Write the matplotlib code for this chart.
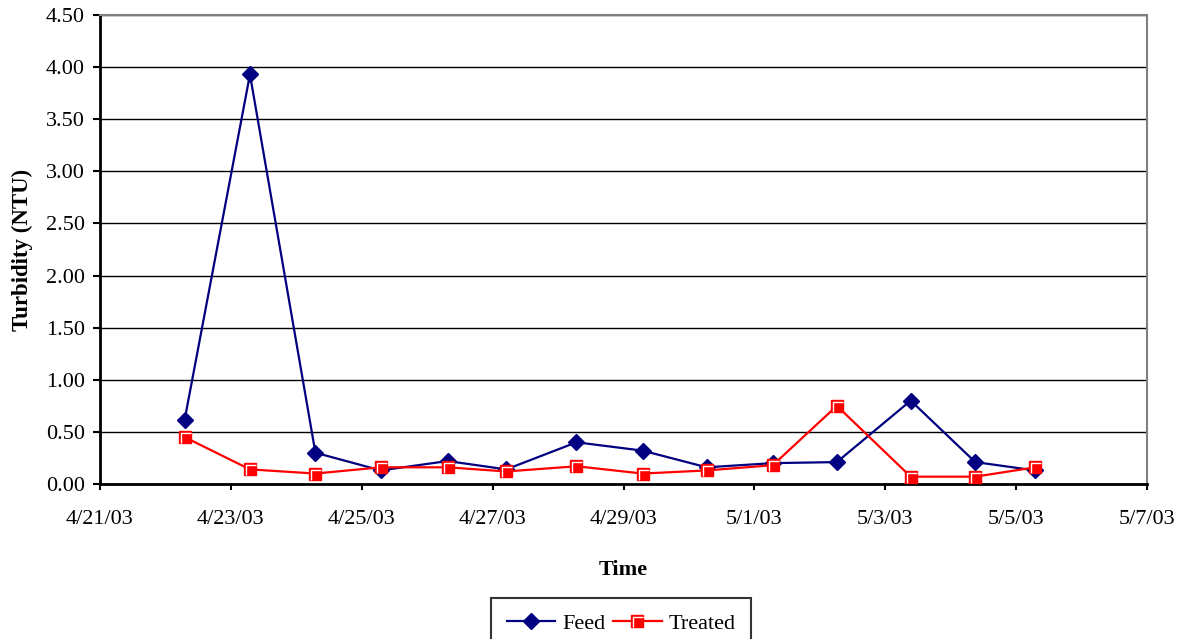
import numpy as np
import pandas as pd
import matplotlib
matplotlib.use('Agg')
import matplotlib.pyplot as plt
import matplotlib.dates as mdates
from matplotlib.path import Path
from matplotlib.legend_handler import HandlerTuple

# sample times and turbidity readings (NTU)
sample_times = ['2003-04-22 07:00', '2003-04-23 07:00', '2003-04-24 07:00',
                '2003-04-25 07:00', '2003-04-26 07:30', '2003-04-27 05:00',
                '2003-04-28 06:45', '2003-04-29 07:00', '2003-04-30 06:30',
                '2003-05-01 06:45', '2003-05-02 06:15', '2003-05-03 09:20',
                '2003-05-04 09:00', '2003-05-05 07:00']
feed = [0.61, 3.93, 0.30, 0.13, 0.22, 0.14, 0.40, 0.32, 0.16, 0.20,
        0.21, 0.80, 0.21, 0.13]
treated = [0.45, 0.14, 0.10, 0.16, 0.16, 0.12, 0.17, 0.10, 0.13, 0.18,
           0.75, 0.07, 0.07, 0.16]

x_start, x_end = '2003-04-21', '2003-05-07'
y_ticks = np.arange(0, 4.51, 0.5)

plt.rcParams['font.family'] = ['Liberation Serif', 'DejaVu Serif']

t = pd.to_datetime(sample_times)

fig = plt.figure(figsize=(11.82, 6.39), dpi=100)
ax = fig.add_axes([0.0846, 0.2426, 0.8858, 0.7339])

# white corner mark drawn inside the red squares
corner = Path([(-0.32, -0.45), (-0.32, 0.32), (0.45, 0.32)],
              [Path.MOVETO, Path.LINETO, Path.LINETO])

feed_line, = ax.plot(t, feed, color='#000080', lw=1.6, marker='D',
                     markersize=8.5, markerfacecolor='#000080',
                     markeredgecolor='#000080', zorder=3)
treated_line, = ax.plot(t, treated, color='#ff0000', lw=1.6, marker='s',
                        markersize=8, markerfacecolor='#ff0000',
                        markeredgecolor='#ff0000', zorder=4)
corner_marks, = ax.plot(t, treated, ls='none', marker=corner, markersize=8,
                        markerfacecolor='none', markeredgecolor='white',
                        markeredgewidth=1.0, zorder=5)

ax.set_xlim(pd.Timestamp(x_start), pd.Timestamp(x_end))
ax.set_ylim(0, 4.5)
ax.set_xticks(pd.date_range(x_start, x_end, freq='2D'))
ax.xaxis.set_major_formatter(
    plt.FuncFormatter(lambda v, p: '{d.month}/{d.day}/{y}'.format(
        d=mdates.num2date(v), y=mdates.num2date(v).strftime('%y'))))
ax.set_yticks(y_ticks)
ax.yaxis.set_major_formatter(plt.FuncFormatter(lambda v, p: f'{v:.2f}'))

ax.grid(axis='y', color='black', lw=1.0, zorder=0)
ax.set_axisbelow(True)
ax.tick_params(axis='both', direction='out', width=1.5,
               labelsize=16, color='black')
ax.tick_params(axis='x', length=4, pad=15)
ax.tick_params(axis='y', length=5, pad=6)

for side in ['left', 'bottom']:
    ax.spines[side].set_linewidth(2)
    ax.spines[side].set_color('black')
for side in ['top', 'right']:
    ax.spines[side].set_linewidth(1.5)
    ax.spines[side].set_color('#808080')

ax.set_xlabel('Time', fontsize=16, fontweight='bold', labelpad=22)
ax.set_ylabel('Turbidity (NTU)', fontsize=16.5, fontweight='bold',
              labelpad=9)

leg = fig.legend([feed_line, (treated_line, corner_marks)],
                 ['Feed', 'Treated'],
                 handler_map={tuple: HandlerTuple(ndivide=1, pad=0)},
                 loc='upper center', bbox_to_anchor=(0.5254, 0.0642),
                 ncol=2, frameon=True, fancybox=False, fontsize=16,
                 handlelength=2.2, handletextpad=0.3, columnspacing=0.35,
                 borderpad=0.7, borderaxespad=0)
leg.get_frame().set_edgecolor('black')
leg.get_frame().set_linewidth(1.5)

fig.savefig('out.png', dpi=100)
